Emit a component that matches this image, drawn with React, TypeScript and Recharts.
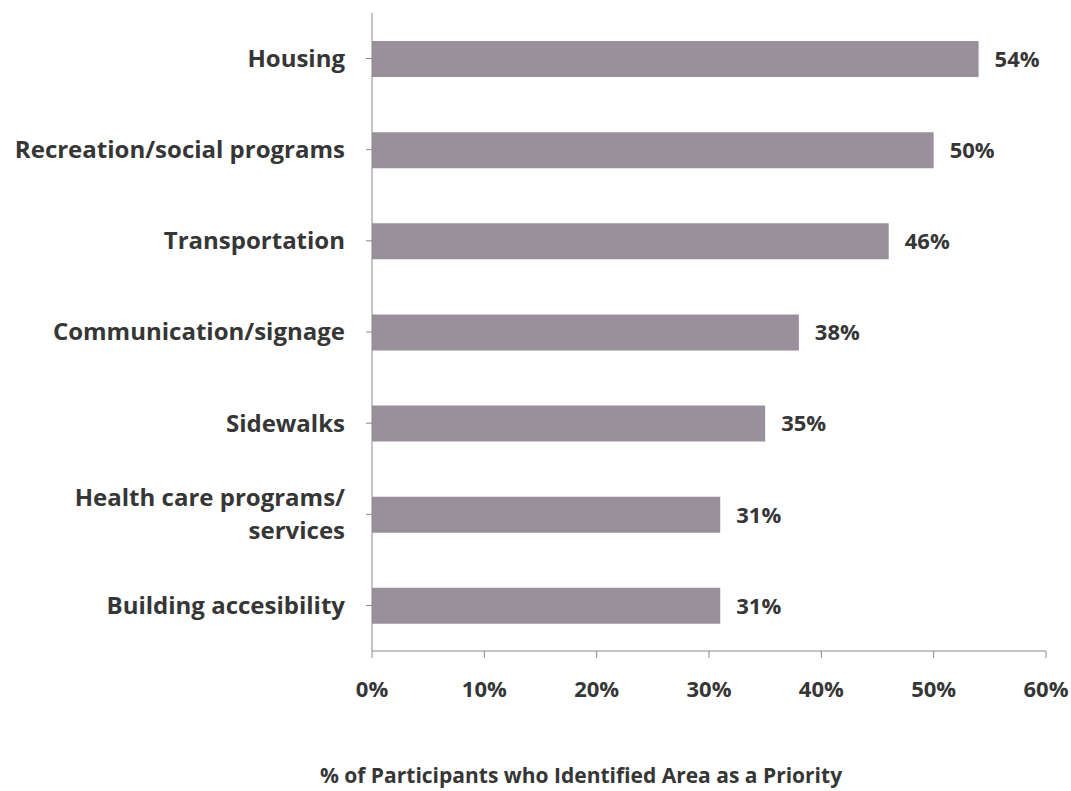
import { BarChart, Bar, XAxis, YAxis, LabelList, Label } from "recharts";

const categories = [
  "Housing",
  "Recreation/social programs",
  "Transportation",
  "Communication/signage",
  "Sidewalks",
  "Health care programs/\nservices",
  "Building accesibility",
];
const values = [54, 50, 46, 38, 35, 31, 31];
const xTicks = [0, 10, 20, 30, 40, 50, 60];

const data = categories.map((name, i) => ({ name, value: values[i] }));

const FONT = "'Open Sans', sans-serif";
const TEXT = "#363636";

function CategoryTick(props: any) {
  const { x, y, payload } = props;
  const lines = String(payload.value).split("\n");
  const lh = 33;
  const start = -((lines.length - 1) * lh) / 2;
  return (
    <text
      x={x}
      y={y}
      textAnchor="end"
      fontFamily={FONT}
      fontWeight={700}
      fontSize={24}
      fill={TEXT}
    >
      {lines.map((l, i) => (
        <tspan key={i} x={x} y={y + start + i * lh} dy="0.35em">
          {l}
        </tspan>
      ))}
    </text>
  );
}

export default function App() {
  return (
    <div style={{ position: "absolute", left: 0, top: 0, background: "#fff" }}>
      <BarChart
        width={1071}
        height={791}
        data={data}
        layout="vertical"
        margin={{ top: 13, right: 25, bottom: 0, left: 0 }}
      >
        <XAxis
          type="number"
          domain={[0, 60]}
          ticks={xTicks}
          tickFormatter={(v: number) => `${v}%`}
          height={140}
          stroke="#8a8a8a"
          tickSize={7}
          tickMargin={23}
          tick={{ fontFamily: FONT, fontWeight: 700, fontSize: 22, fill: TEXT }}
        >
          <Label
            content={(p: any) => {
              const vb = p.viewBox;
              return (
                <text
                  x={vb.x + vb.width / 2 - 128}
                  y={vb.y + 132}
                  textAnchor="middle"
                  fontFamily={FONT}
                  fontWeight={700}
                  fontSize={21}
                  fill={TEXT}
                >
                  % of Participants who Identified Area as a Priority
                </text>
              );
            }}
          />
        </XAxis>
        <YAxis
          type="category"
          dataKey="name"
          width={372}
          stroke="#8a8a8a"
          tickSize={6}
          tickMargin={21}
          tick={<CategoryTick />}
        />
        <Bar dataKey="value" fill="#9a909b" barSize={36} isAnimationActive={false}>
          <LabelList
            dataKey="value"
            position="right"
            offset={16}
            formatter={(v: any) => `${v}%`}
            style={{ fontFamily: FONT, fontWeight: 700, fontSize: 22, fill: TEXT }}
          />
        </Bar>
      </BarChart>
    </div>
  );
}
